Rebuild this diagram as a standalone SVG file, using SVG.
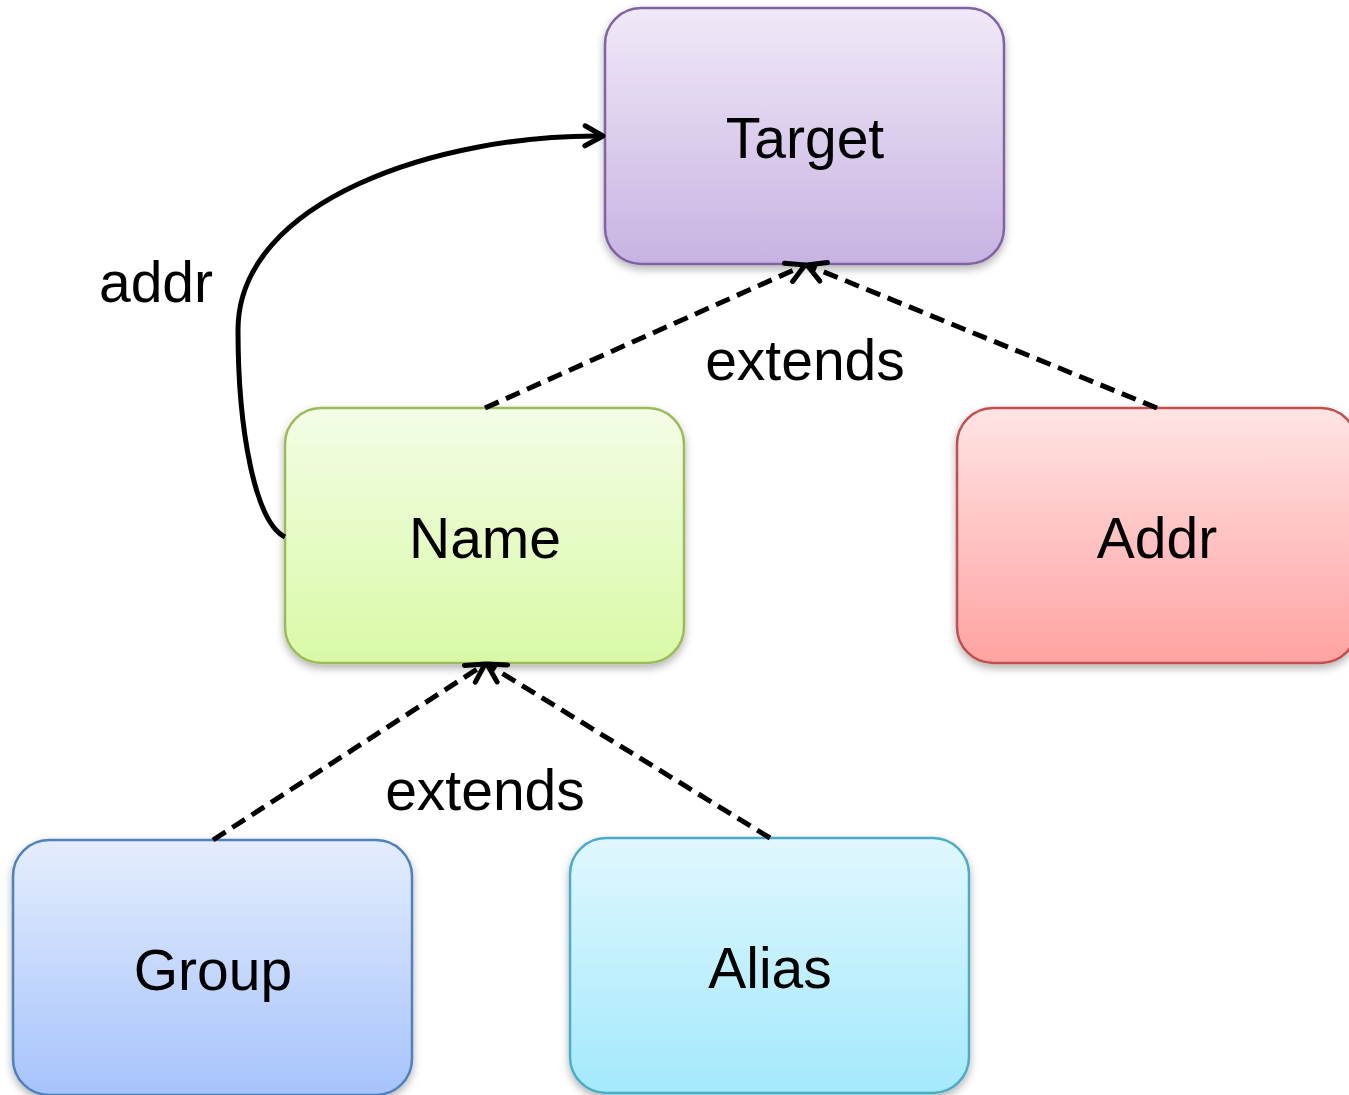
<svg xmlns="http://www.w3.org/2000/svg" width="1349" height="1095" viewBox="0 0 1349 1095">
<style>
.box{stroke-width:2.5}
.lbl{font-family:"Liberation Sans",Arial,sans-serif;font-size:57px;fill:#000;text-anchor:middle}
.conn{fill:none;stroke:#000;stroke-width:5}
.dash{stroke-dasharray:15 8}
</style>
<defs>
<filter id="sh" x="-10%" y="-10%" width="120%" height="130%">
<feDropShadow dx="0" dy="4" stdDeviation="4" flood-color="#000" flood-opacity="0.3"/>
</filter>
<linearGradient id="gT" x1="0" y1="0" x2="0" y2="1"><stop offset="0" stop-color="#f0e9f8"/><stop offset="1" stop-color="#c7b3e2"/></linearGradient>
<linearGradient id="gN" x1="0" y1="0" x2="0" y2="1"><stop offset="0" stop-color="#f3fde6"/><stop offset="1" stop-color="#d9f9a6"/></linearGradient>
<linearGradient id="gA" x1="0" y1="0" x2="0" y2="1"><stop offset="0" stop-color="#ffe4e4"/><stop offset="1" stop-color="#ffa3a2"/></linearGradient>
<linearGradient id="gG" x1="0" y1="0" x2="0" y2="1"><stop offset="0" stop-color="#e4edfd"/><stop offset="1" stop-color="#a6c3fb"/></linearGradient>
<linearGradient id="gL" x1="0" y1="0" x2="0" y2="1"><stop offset="0" stop-color="#e0f7fe"/><stop offset="1" stop-color="#a3e9fc"/></linearGradient>
<marker id="ah" viewBox="0 0 26 26" refX="23" refY="13" markerWidth="26" markerHeight="26" markerUnits="userSpaceOnUse" orient="auto">
<path d="M5,3 L23,13 L5,23" fill="none" stroke="#000" stroke-width="5" stroke-linecap="round" stroke-linejoin="round"/>
</marker>
</defs>
<g id="node-target">
<rect class="box" x="605" y="8" width="399" height="256" rx="36" fill="url(#gT)" stroke="#8064a2" filter="url(#sh)"/>
<text class="lbl" x="805" y="158">Target</text>
</g>
<g id="node-name">
<rect class="box" x="285" y="408" width="399" height="255" rx="36" fill="url(#gN)" stroke="#9bbb59" filter="url(#sh)"/>
<text class="lbl" x="485" y="558">Name</text>
</g>
<g id="node-addr">
<rect class="box" x="957" y="408" width="400" height="255" rx="36" fill="url(#gA)" stroke="#c0504d" filter="url(#sh)"/>
<text class="lbl" x="1157" y="558">Addr</text>
</g>
<g id="node-group">
<rect class="box" x="13" y="840" width="399" height="255" rx="36" fill="url(#gG)" stroke="#4f81bd" filter="url(#sh)"/>
<text class="lbl" x="213" y="990">Group</text>
</g>
<g id="node-alias">
<rect class="box" x="570" y="838" width="399" height="255" rx="36" fill="url(#gL)" stroke="#4bacc6" filter="url(#sh)"/>
<text class="lbl" x="770" y="988">Alias</text>
</g>
<g id="connectors">
<path class="conn" d="M285,537 C255,522 238,430 238,330 C238,200 440,134 603,136" marker-end="url(#ah)"/>
<path class="conn dash" d="M485,408 L805,265" marker-end="url(#ah)"/>
<path class="conn dash" d="M1157,408 L807,265" marker-end="url(#ah)"/>
<path class="conn dash" d="M213,840 L485,664" marker-end="url(#ah)"/>
<path class="conn dash" d="M770,838 L487,664" marker-end="url(#ah)"/>
<text class="lbl" x="156" y="302">addr</text>
<text class="lbl" x="805" y="380">extends</text>
<text class="lbl" x="485" y="810">extends</text>
</g>
</svg>
